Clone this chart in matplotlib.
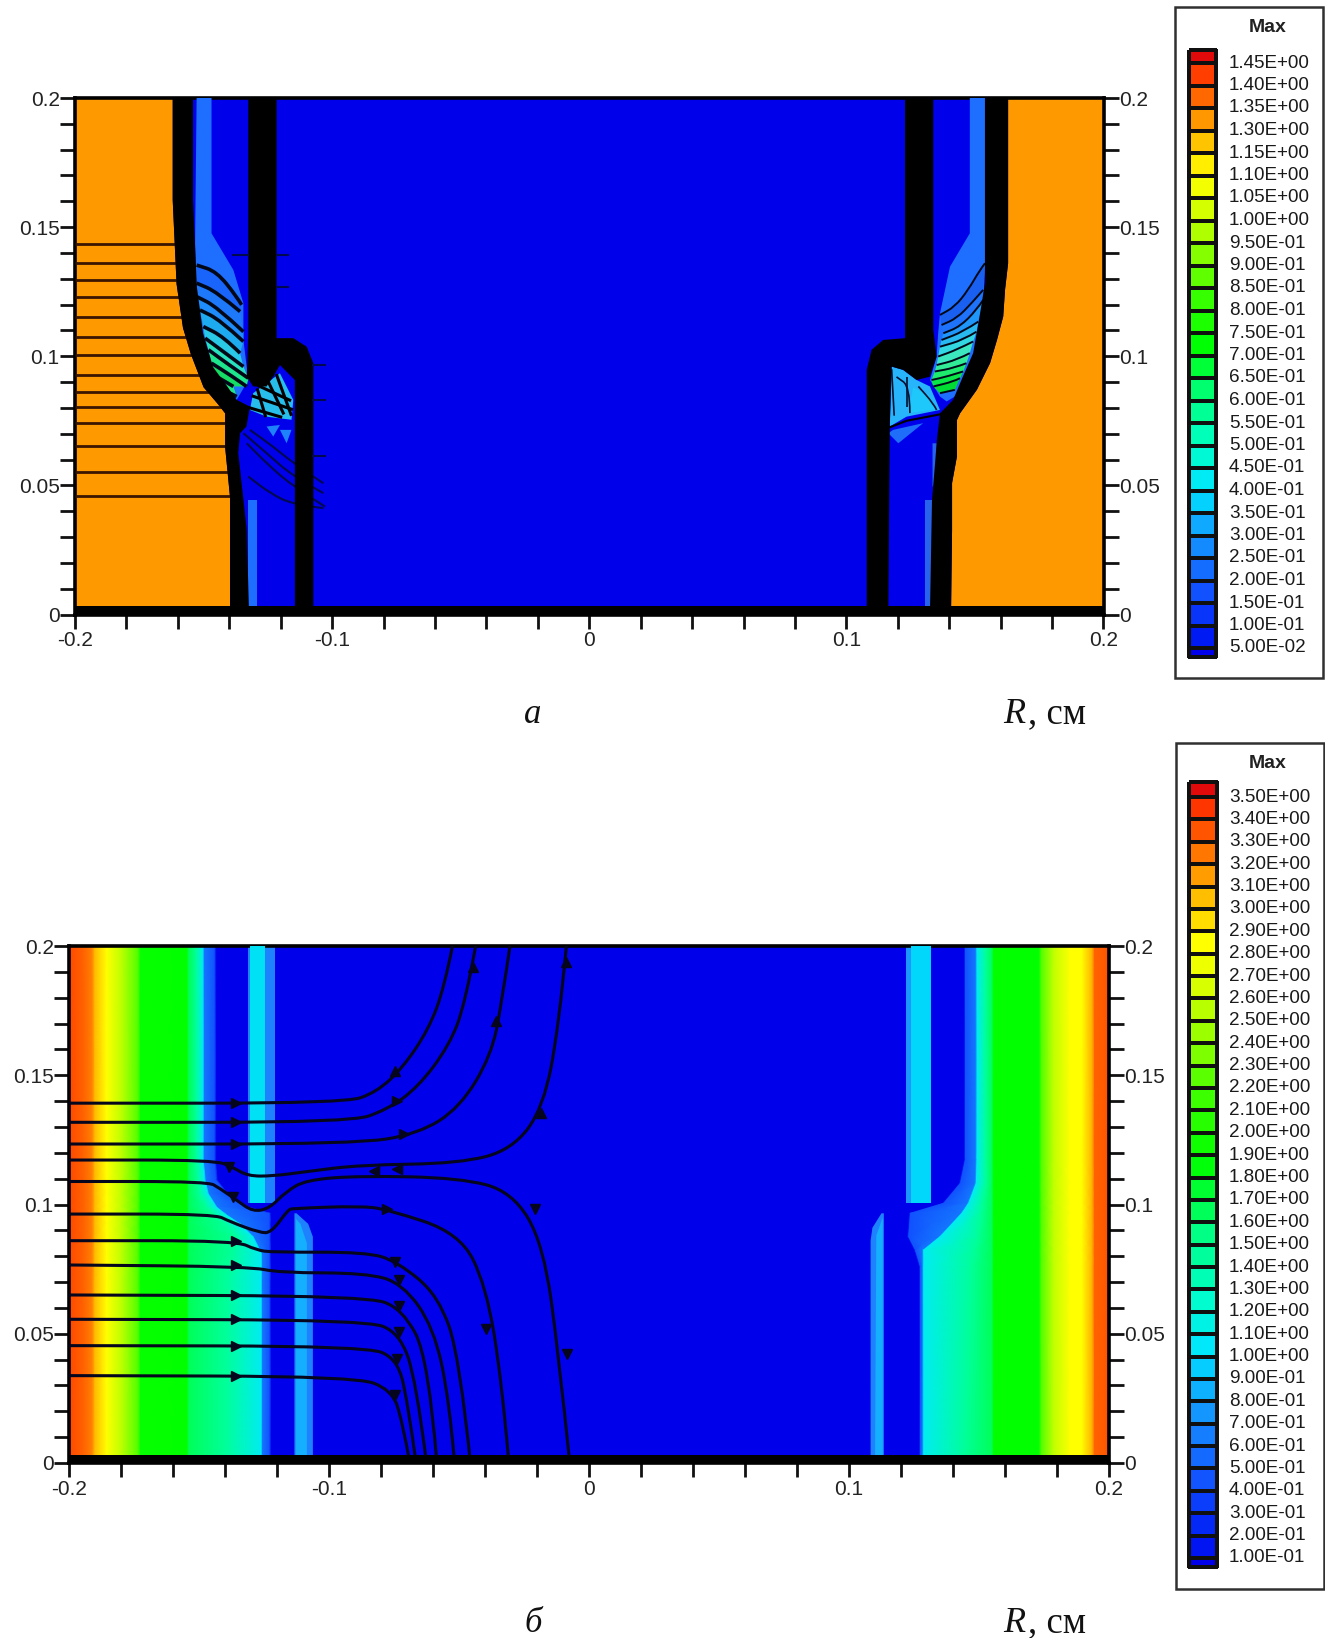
import numpy as np
import matplotlib
matplotlib.use("Agg")
import matplotlib.pyplot as plt
from matplotlib.colors import LinearSegmentedColormap
from matplotlib.patches import Polygon, PathPatch, Rectangle
from matplotlib.path import Path

plt.rcParams['font.family'] = ['Liberation Sans', 'DejaVu Sans']
W, H = 1325, 1638

# ---------- colour scale ----------
scale_t = [0, .04, .12, .2, .28, .35, .43, .52, .6, .7, .76, .8, .86, .9, .94, .98, 1]
scale_c = ['#0000EB', '#001EF5', '#145AFF', '#1496FF', '#00E6FF', '#00FFC8', '#00FF82', '#00FF00',
           '#3CFF00', '#AAFF00', '#E6FF00', '#FFFF00', '#FFBE00', '#FF8C00', '#FF5A00', '#FF2D00', '#E10A0A']
FIELD = LinearSegmentedColormap.from_list('field', list(zip(scale_t, scale_c)))
BLUE = FIELD(0.0)
ORANGE = '#FF9900'

# ---------- legends ----------
legend_a = ['1.45E+00', '1.40E+00', '1.35E+00', '1.30E+00', '1.15E+00', '1.10E+00', '1.05E+00', '1.00E+00',
            '9.50E-01', '9.00E-01', '8.50E-01', '8.00E-01', '7.50E-01', '7.00E-01', '6.50E-01', '6.00E-01',
            '5.50E-01', '5.00E-01', '4.50E-01', '4.00E-01', '3.50E-01', '3.00E-01', '2.50E-01', '2.00E-01',
            '1.50E-01', '1.00E-01', '5.00E-02']
legend_b = ['3.50E+00', '3.40E+00', '3.30E+00', '3.20E+00', '3.10E+00', '3.00E+00', '2.90E+00', '2.80E+00',
            '2.70E+00', '2.60E+00', '2.50E+00', '2.40E+00', '2.30E+00', '2.20E+00', '2.10E+00', '2.00E+00',
            '1.90E+00', '1.80E+00', '1.70E+00', '1.60E+00', '1.50E+00', '1.40E+00', '1.30E+00', '1.20E+00',
            '1.10E+00', '1.00E+00', '9.00E-01', '8.00E-01', '7.00E-01', '6.00E-01', '5.00E-01', '4.00E-01',
            '3.00E-01', '2.00E-01', '1.00E-01']

# ---------- panel a: geometry in (R, Z) ----------
a_left_outer = [(-.162, .2), (-.162, .1605), (-.1605, .128), (-.158, .111), (-.155, .101), (-.150, .088),
                (-.1447, .0818), (-.1416, .0779), (-.1416, .0647), (-.1397, .0453), (-.1397, 0)]
a_left_inner = [(-.1541, .2), (-.1541, .1605), (-.1526, .1268), (-.1502, .109), (-.1463, .0958), (-.1409, .0885),
                (-.1371, .0831), (-.1320, .0805), (-.1333, .0728), (-.1358, .0702), (-.1365, .0625),
                (-.1345, .0445), (-.1332, .0326), (-.1323, 0)]
a_left_cap = [(-.1326, .2), (-.1216, .2), (-.1216, .107), (-.1151, .107), (-.1099, .1037), (-.1073, .0973),
              (-.1073, 0), (-.1145, 0), (-.1145, .0908), (-.1203, .0966), (-.1229, .0921), (-.1255, .0883),
              (-.1307, .0883), (-.1332, .0921), (-.1326, .1089)]
a_left_lens = [(-.1527, .2), (-.1469, .2), (-.1469, .1476), (-.1384, .1334), (-.1345, .1205), (-.1345, .1063),
               (-.1326, .0908), (-.1371, .0831), (-.1449, .0883), (-.1501, .0986), (-.1527, .1218), (-.1533, .1437)]
a_left_lines = [
    [(-.1527, .1353), (-.1449, .1328), (-.1371, .1231), (-.1352, .1199)],
    [(-.1527, .1283), (-.1449, .1250), (-.1358, .1173)],
    [(-.1527, .1231), (-.1449, .1192), (-.1345, .1095)],
    [(-.1514, .1179), (-.1436, .1141), (-.1345, .1057)],
    [(-.1501, .1115), (-.1423, .1076), (-.1358, .1012)],
    [(-.1494, .1070), (-.1423, .1018), (-.1345, .0960)],
    [(-.1481, .1025), (-.1410, .0973), (-.1326, .0915)],
    [(-.1469, .0973), (-.1397, .0928), (-.1332, .0883)],
    [(-.1449, .0921), (-.1384, .0883)],
    [(-.1423, .0870), (-.1371, .0844)],
]
a_left_strip_colors = ['#1964FA', '#1E78FA', '#1E8CFA', '#1EAAF0', '#28C8E6', '#28E1BE', '#1EE68C', '#14DC64', '#1EE682']
a_left_speck = [(-.1320, .0792), (-.1307, .0857), (-.1203, .0934), (-.1151, .0831), (-.1158, .0754), (-.1255, .0766)]
a_left_speck_lines = [
    [(-.1307, .0845), (-.1158, .0795)], [(-.1285, .0885), (-.1165, .0830)], [(-.1320, .0800), (-.1200, .0765)],
    [(-.1255, .0915), (-.1190, .0780)], [(-.1215, .0925), (-.1160, .0775)], [(-.1290, .0870), (-.1260, .0770)],
]
a_left_patches = [[(-.1255, .0728), (-.1203, .0734), (-.1229, .0689)], [(-.1203, .0715), (-.1158, .0715), (-.1177, .0663)]]
a_left_low_lines = [
    [(-.1320, .0715), (-.1229, .0650), (-.1151, .0586), (-.1034, .0508)],
    [(-.1345, .0702), (-.1255, .0625), (-.1151, .0534), (-.1034, .0470)],
    [(-.1332, .0663), (-.1242, .0573), (-.1151, .0496), (-.1028, .0418)],
    [(-.1326, .0534), (-.1242, .0470), (-.1151, .0425), (-.1034, .0412)],
]
a_left_stubs = [[(-.1073, .0966), (-.1028, .0966)], [(-.1073, .0831), (-.1028, .0831)], [(-.1073, .0612), (-.1028, .0612)],
                [(-.1384, .1392), (-.1326, .1392)], [(-.1216, .1392), (-.1170, .1392)], [(-.1216, .1270), (-.1170, .1270)]]
a_left_low_strip = [(-.1326, .0444), (-.1294, .0444), (-.1294, 0), (-.1326, 0)]

a_right_outer = [(.1629, .2), (.1629, .136), (.1617, .1257), (.1610, .1154), (.1586, .1064), (.1559, .0974),
                 (.1508, .0871), (.1442, .0779), (.1430, .0753), (.1430, .0612), (.1411, .0509), (.1411, .0328), (.1407, 0)]
a_right_inner = [(.1539, .2), (.1539, .1283), (.1520, .1166), (.1493, .1012), (.1453, .0921), (.1415, .0831),
                 (.1364, .0779), (.1352, .0676), (.1345, .0586), (.1333, .0444), (.1325, 0)]
a_right_cap = [(.1228, .2), (.1338, .2), (.1338, .1102), (.1351, .0999), (.1325, .0921), (.1273, .0908), (.1221, .0947),
               (.1176, .0960), (.1169, .0741), (.1163, 0), (.1079, 0), (.1079, .0947), (.1098, .1025), (.1143, .1063), (.1228, .1070)]
a_right_lens = [(.1480, .2), (.1539, .2), (.1539, .1347), (.1532, .1205), (.1506, .1050), (.1474, .0934), (.1422, .0844),
                (.1390, .0825), (.1364, .0844), (.1325, .0908), (.1351, .0999), (.1357, .1089), (.1364, .1166), (.1403, .1347), (.1480, .1476)]
a_right_lines = [
    [(.1364, .1160), (.1422, .1192), (.1474, .1257), (.1519, .1334), (.1539, .1360)],
    [(.1370, .1121), (.1429, .1147), (.1487, .1205), (.1532, .1257)],
    [(.1377, .1089), (.1442, .1115), (.1506, .1179), (.1532, .1218)],
    [(.1370, .1063), (.1454, .1095), (.1513, .1134)],
    [(.1364, .1037), (.1454, .1063), (.1506, .1095)],
    [(.1357, .0999), (.1429, .1025), (.1493, .1057)],
    [(.1351, .0966), (.1429, .0986), (.1480, .1012)],
    [(.1344, .0941), (.1416, .0954), (.1467, .0973)],
    [(.1331, .0908), (.1390, .0921), (.1454, .0941)],
    [(.1338, .0883), (.1416, .0902), (.1442, .0915)],
    [(.1364, .0857), (.1422, .0870)],
]
a_right_strip_colors = ['#195FF0', '#1E73FA', '#1E96FA', '#28B9F0', '#32D7E1', '#3CE6BE', '#32EB96', '#1EEB6E', '#0AE646', '#00DC32']
a_right_cyan = [(.1176, .0960), (.1221, .0947), (.1273, .0908), (.1325, .0883), (.1364, .0792), (.1234, .0766), (.1169, .0728)]
a_right_cyan_inner = [(.1260, .0880), (.1320, .0850), (.1350, .0795), (.1240, .0780)]
a_right_cyan_lines = [[(.1195, .0920), (.1247, .0883), (.1247, .0780)], [(.1234, .0920), (.1234, .0805)],
                      [(.1280, .0883), (.1338, .0818), (.1351, .0792)], [(.1176, .0950), (.1186, .0770)]]
a_right_tri = [(.1163, .0702), (.1202, .0663), (.1299, .0741), (.1182, .0715)]
a_right_line = [(.1169, .0725), (.1234, .0750), (.1364, .0775)]
a_right_slivers = [[(.1335, .0663), (.1352, .0663), (.1345, .0496), (.1335, .0496)], [(.1306, .0444), (.1337, .0444), (.1337, 0), (.1306, 0)]]
a_stream_z = [.1433, .1360, .1295, .1231, .1151, .1076, .1003, .0928, .0863, .0803, .0741, .0654, .0551, .0459]

# ---------- panel b: field mesh ----------
b_left_z = [.2, .1172, .1095, .1043, .0992, .0966, .0927, .0876, .0811, .0708, 0]
b_left_spring = [-.151, -.151, -.1504, -.1498, -.1472, -.1446, -.1402, -.1357, -.1370, -.1392, -.1392]
b_left_cyan = [-.1485, -.1485, -.1478, -.1466, -.1434, -.1402, -.1344, -.1293, -.1261, -.1261, -.1261]
b_left_wall = [-.144, -.144, -.1434, -.1395, -.1318, -.1229, -.1229, -.1229, -.1229, -.1229, -.1229]
b_left_fixed_r = [-.2, -.1945, -.1912, -.1900, -.1855, -.1800, -.1735, -.1725, -.1547, -.1538]
b_left_fixed_t = [.955, .93, .91, .86, .8, .72, .62, .53, .52, .46]
b_edge_t = [.40, .30, .16, .11, .0]

b_right_z = [.2, .1172, .1082, .1005, .0966, .0876, .0824, .0760, 0]
b_right_wall = [.1448, .1448, .1429, .1365, .1237, .1230, .1256, .1275, .1275]
b_right_cyan = [.1493, .1493, .1490, .1461, .1435, .1352, .1288, .1288, .1288]
b_right_spring = [.1525, .1525, .1525, .1512, .1506, .1493, .1480, .1467, .1440]
b_right_fixed_r = [.1550, .1557, .1730, .1740, .1787, .1851, .1895, .1935, .1945, .1986, .2]
b_right_fixed_t = [.46, .52, .52, .62, .72, .8, .8, .87, .93, .94, .95]

b_strip_left_up = {'outer': [(-.131, .1005), (-.1208, .1005), (-.1208, .2), (-.131, .2)],
                   'inner': [(-.1305, .1005), (-.1248, .1005), (-.1248, .2), (-.1305, .2)]}
b_strip_right_up = {'outer': [(.1218, .1005), (.1314, .1005), (.1314, .2), (.1218, .2)],
                    'inner': [(.1240, .1005), (.1314, .1005), (.1314, .2), (.1240, .2)]}
b_strip_left_low = {'outer': [(-.1133, 0), (-.1062, 0), (-.1062, .0875), (-.108, .0925), (-.1125, .0966), (-.1133, .0966)],
                    'inner': [(-.1128, 0), (-.1085, 0), (-.1085, .0850), (-.1110, .0925), (-.1128, .0945)]}
b_strip_right_low = {'outer': [(.1083, 0), (.1134, 0), (.1134, .0966), (.1125, .0966), (.1090, .0910), (.1083, .0860)],
                     'inner': [(.1100, 0), (.1130, 0), (.1130, .095), (.1105, .0880)]}

b_streams = [
    [(-.2, .1392), (-.0939, .1392), (-.0818, .1434), (-.0718, .1527), (-.0617, .1677), (-.0557, .1838), (-.0525, .2)],
    [(-.2, .1318), (-.0919, .1318), (-.0778, .1366), (-.0657, .1454), (-.0537, .1616), (-.0476, .1778), (-.0436, .2)],
    [(-.2, .1234), (-.0899, .1234), (-.0657, .1273), (-.0497, .1374), (-.0376, .1576), (-.0336, .1778), (-.0304, .2)],
    [(-.2, .1172), (-.1440, .1172), (-.1370, .1144), (-.1312, .1110), (-.1216, .1110), (-.1088, .1127), (-.0883, .1153),
     (-.0497, .1159), (-.0296, .1212), (-.0175, .1374), (-.0115, .1697), (-.0087, .2)],
    [(-.2, .1089), (-.1466, .1089), (-.1421, .1063), (-.1357, .1018), (-.1293, .0972), (-.1229, .0985), (-.1165, .1050),
     (-.1088, .1095), (-.0883, .1111), (-.0497, .1103), (-.0296, .1050), (-.0175, .0848), (-.0115, .0404), (-.0074, 0)],
    [(-.2, .0963), (-.1440, .0963), (-.1382, .0934), (-.1267, .0891), (-.1222, .0891), (-.1158, .0979), (-.1139, .0985),
     (-.0883, .0994), (-.0778, .0982), (-.0497, .0889), (-.0396, .0687), (-.0336, .0323), (-.0308, 0)],
    [(-.2, .0860), (-.1357, .0860), (-.1280, .0824), (-.1216, .0815), (-.0858, .0816), (-.0738, .0780), (-.0577, .0646), (-.0497, .0404), (-.0456, 0)],
    [(-.2, .0766), (-.1306, .0760), (-.1190, .0736), (-.0858, .0735), (-.0718, .0695), (-.0597, .0525), (-.0537, .0242), (-.0517, 0)],
    [(-.2, .0650), (-.0858, .0646), (-.0718, .0598), (-.0617, .0404), (-.0585, 0)],
    [(-.2, .0556), (-.0858, .0553), (-.0730, .0505), (-.0665, .0323), (-.0625, 0)],
    [(-.2, .0454), (-.0858, .0452), (-.0738, .0404), (-.0698, .0242), (-.0665, 0)],
    [(-.2, .0338), (-.0899, .0335), (-.0758, .0283), (-.0718, .0162), (-.0689, 0)],
]
arrows_right = [(-.1357, .1392), (-.1357, .1318), (-.1357, .1234), (-.1357, .0860), (-.1357, .0766), (-.1357, .0650),
                (-.1357, .0556), (-.1357, .0454), (-.1357, .0338), (-.0710, .1273), (-.0778, .0982), (-.0738, .1402)]
arrows_up = [(-.0746, .1515), (-.0448, .1919), (-.0356, .1709), (-.0183, .1353), (-.0087, .1939)]
arrows_down = [(-.0207, .0982), (-.0396, .0517), (-.0083, .0420), (-.1385, .1145), (-.1370, .1030), (-.0746, .0776),
               (-.0730, .0707), (-.0730, .0606), (-.0730, .0505), (-.0738, .0404), (-.0746, .0263)]
arrows_left = [(-.0738, .1139), (-.0826, .1131)]

y_ticks = np.arange(0, .2001, .01)
x_ticks = np.arange(-.2, .2001, .02)
y_labeled = {0: '0', 5: '0.05', 10: '0.1', 15: '0.15', 20: '0.2'}
x_labeled = {0: '-0.2', 5: '-0.1', 10: '0', 15: '0.1', 20: '0.2'}


def smooth(pts, **kw):
    pts = [tuple(p) for p in pts]
    if len(pts) < 3:
        return PathPatch(Path(pts), fill=False, **kw)
    verts, codes = [pts[0]], [Path.MOVETO]
    verts.append(((pts[0][0] + pts[1][0]) / 2, (pts[0][1] + pts[1][1]) / 2))
    codes.append(Path.LINETO)
    for i in range(1, len(pts) - 1):
        nxt = pts[i + 1] if i == len(pts) - 2 else ((pts[i][0] + pts[i + 1][0]) / 2, (pts[i][1] + pts[i + 1][1]) / 2)
        verts += [pts[i], nxt]
        codes += [Path.CURVE3, Path.CURVE3]
    return PathPatch(Path(verts, codes), fill=False, **kw)


def setup(ax):
    ax.set_xlim(-.2, .2)
    ax.set_ylim(0, .2)
    ax.set_facecolor(BLUE)
    ax.set_yticks(y_ticks)
    ax.set_xticks(x_ticks)
    ax.set_yticklabels([y_labeled.get(i, '') for i in range(len(y_ticks))])
    ax.set_xticklabels([x_labeled.get(i, '') for i in range(len(x_ticks))])
    ax.tick_params(axis='y', left=True, right=True, labelleft=True, labelright=True, length=11, width=2,
                   labelsize=15, pad=0, color='#111111', labelcolor='#222222')
    ax.tick_params(axis='x', bottom=True, length=10, width=2, labelsize=15, pad=2, color='#111111', labelcolor='#222222')
    for s in ax.spines.values():
        s.set_linewidth(2.6)
        s.set_color('#000000')
    ax.fill_between([-.2, .2], 0, .0032, color='k', zorder=12, lw=0)


def poly(ax, pts, color, z=2):
    ax.add_patch(Polygon(pts, closed=True, facecolor=color, edgecolor='none', zorder=z))


fig = plt.figure(figsize=(W / 100, H / 100), dpi=100, facecolor='white')

# ---------- panel a ----------
ax = fig.add_axes([75 / W, 1 - 614.5 / H, 1028.5 / W, 516.5 / H])
setup(ax)
poly(ax, [(-.2, .2)] + a_left_outer + [(-.2, 0)], ORANGE)
poly(ax, [(.2, .2)] + a_right_outer + [(.2, 0)], ORANGE)
outer_z = [p[1] for p in a_left_outer][::-1]
outer_r = [p[0] for p in a_left_outer][::-1]
for z in a_stream_z:
    ax.plot([-.2, np.interp(z, outer_z, outer_r) + .001], [z, z], color='#3A1500', lw=2.0, zorder=3, solid_capstyle='butt')

for side_lens, lines, cols, lw in [(a_left_lens, a_left_lines, a_left_strip_colors, 2.6),
                                   (a_right_lens, a_right_lines, a_right_strip_colors, 1.4)]:
    poly(ax, side_lens, '#1E6EFF', 3)
    for k, c in enumerate(cols):
        poly(ax, lines[k] + lines[k + 1][::-1], c, 4)
    for ln in lines:
        ax.add_patch(smooth(ln, color='#000818', lw=lw, zorder=5))

poly(ax, a_left_low_strip, '#1E6EFF', 3)
poly(ax, a_left_speck, '#28BEEB', 3)
for ln in a_left_speck_lines:
    ax.plot(*zip(*ln), color='k', lw=2.2, zorder=4)
for p in a_left_patches:
    poly(ax, p, '#1E82FA', 3)
for ln in a_left_low_lines:
    ax.add_patch(smooth(ln, color='#000850', lw=1.5, zorder=4))
for ln in a_left_stubs:
    ax.plot(*zip(*ln), color='#000850', lw=1.5, zorder=9)

poly(ax, a_right_cyan, '#28B4FA', 3)
poly(ax, a_right_cyan_inner, '#1EC8FA', 3)
for ln in a_right_cyan_lines:
    ax.add_patch(smooth(ln, color='#001030', lw=1.2, zorder=4))
poly(ax, a_right_tri, '#1E6EFA', 3)
ax.plot(*zip(*a_right_line), color='k', lw=1.5, zorder=4)
for p in a_right_slivers:
    poly(ax, p, '#2864EB', 3)

poly(ax, a_left_outer + a_left_inner[::-1], 'k', 8)
poly(ax, a_left_cap, 'k', 8)
poly(ax, a_right_outer + a_right_inner[::-1], 'k', 8)
poly(ax, a_right_cap, 'k', 8)

# ---------- panel b ----------
ax = fig.add_axes([69 / W, 1 - 1463 / H, 1040 / W, 517 / H])
setup(ax)

nz = len(b_left_z)
gap = .0006
Xl = np.column_stack([np.full(nz, r) for r in b_left_fixed_r] +
                     [b_left_spring, b_left_cyan, np.array(b_left_cyan) + gap, b_left_wall, np.array(b_left_wall) + gap])
Zl = np.tile(np.array(b_left_z)[:, None], (1, Xl.shape[1]))
Tl = np.tile(np.array(b_left_fixed_t + b_edge_t), (nz, 1))
ax.pcolormesh(Xl, Zl, Tl, shading='gouraud', cmap=FIELD, vmin=0, vmax=1, zorder=1)

nz = len(b_right_z)
Xr = np.column_stack([np.array(b_right_wall) - gap, b_right_wall, np.array(b_right_cyan) - gap, b_right_cyan, b_right_spring] +
                     [np.full(nz, r) for r in b_right_fixed_r])
Zr = np.tile(np.array(b_right_z)[:, None], (1, Xr.shape[1]))
Tr = np.tile(np.array(b_edge_t[::-1] + b_right_fixed_t), (nz, 1))
ax.pcolormesh(Xr, Zr, Tr, shading='gouraud', cmap=FIELD, vmin=0, vmax=1, zorder=1)

poly(ax, b_strip_left_up['outer'], '#1E82FF', 2)
poly(ax, b_strip_left_up['inner'], '#00E1F5', 3)
poly(ax, b_strip_right_up['outer'], '#1E96FF', 2)
poly(ax, b_strip_right_up['inner'], '#00D7FA', 3)
poly(ax, b_strip_left_low['outer'], '#1E82FF', 2)
poly(ax, b_strip_left_low['inner'], '#14AFFF', 3)
poly(ax, b_strip_right_low['outer'], '#1E82FF', 2)
poly(ax, b_strip_right_low['inner'], '#14AFFF', 3)

for s in b_streams:
    ax.add_patch(smooth(s, color='#05051E', lw=2.2, zorder=6))
for pts, m in [(arrows_right, '>'), (arrows_up, '^'), (arrows_down, 'v'), (arrows_left, '<')]:
    ax.plot(*zip(*pts), ls='none', marker=m, ms=7, color='#05051E', zorder=7)

# ---------- overlay: legends and captions ----------
ov = fig.add_axes([0, 0, 1, 1], zorder=-1)
ov.set_xlim(0, W)
ov.set_ylim(H, 0)
ov.axis('off')


def legend(labels, box, sw_x, top, first, last, bottom, title_y):
    x0, y0, x1, y1 = box
    ov.add_patch(Rectangle((x0, y0), x1 - x0, y1 - y0, facecolor='white', edgecolor='#303030', lw=1.8))
    ov.text(1268, title_y, 'Max', ha='center', va='center', fontsize=14, fontweight='bold', color='#222222')
    n = len(labels)
    ys = np.linspace(first, last, n)
    edges = np.concatenate([[top], ys, [bottom]])
    vals = np.linspace(1, 0, n + 1)[:, None]
    ov.pcolormesh(sw_x, edges, vals, cmap=FIELD, vmin=0, vmax=1, edgecolors='#101010', linewidth=1.6)
    for y, lab in zip(ys, labels):
        ov.text(1229, y, lab, ha='left', va='center', fontsize=13.6, color='#1A1A1A')


legend(legend_a, (1175, 7, 1323, 678), [1189, 1216], 50, 63, 648, 657, 28)
legend(legend_b, (1176, 743, 1324, 1589), [1189, 1217], 782, 797, 1558, 1567, 763)

serif = ['Liberation Serif', 'DejaVu Serif']
for x, y, s in [(533, 723, 'а'), (533, 1632, 'б')]:
    ov.text(x, y, s, family=serif, style='italic', fontsize=25, ha='center', va='baseline', color='#111111')
for y in (723, 1632):
    ov.text(1003, y, 'R', family=serif, style='italic', fontsize=26, ha='left', va='baseline', color='#111111')
    ov.text(1028, y, ', см', family=serif, fontsize=26.5, ha='left', va='baseline', color='#111111')

fig.savefig('out.png', dpi=100)
